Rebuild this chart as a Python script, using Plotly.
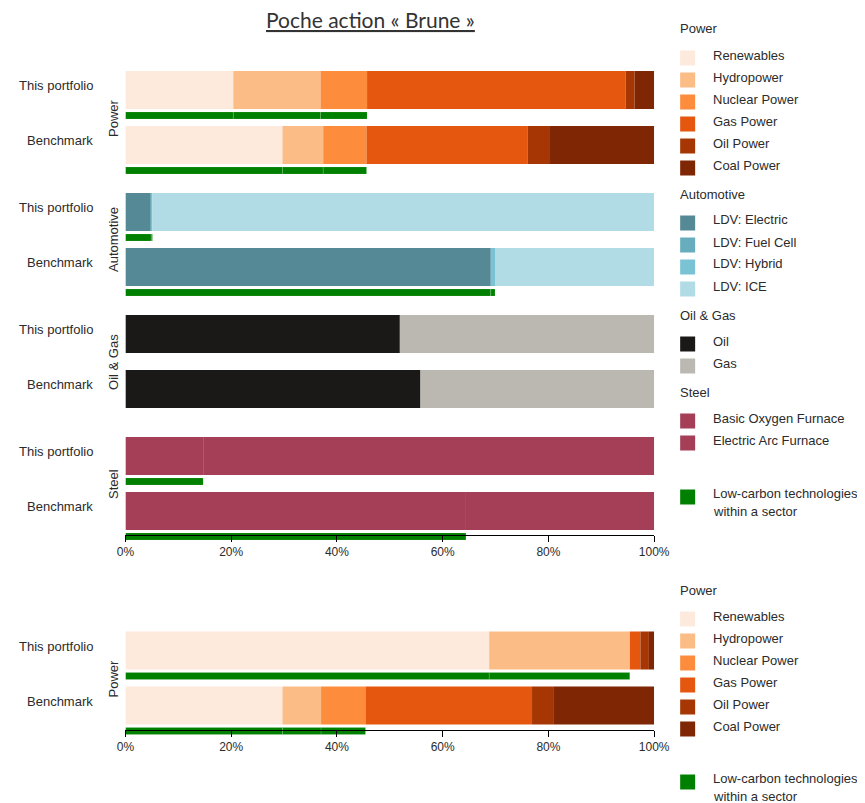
import plotly.graph_objects as go

# ---------------- data ----------------
title_text = "Poche action « Brune »"
row_labels = ["This portfolio", "Benchmark"]
low_carbon_label = ["Low-carbon technologies", "within a sector"]

power_techs = ["Renewables", "Hydropower", "Nuclear Power", "Gas Power", "Oil Power", "Coal Power"]
power_colors = ["#fdeadc", "#fbbd85", "#fd8d3c", "#e5560f", "#a63603", "#7f2704"]
power_lowcarbon = [1, 1, 1, 0, 0, 0]
power_this = [20.4, 16.5, 8.8, 48.9, 1.7, 3.7]
power_bench = [29.7, 7.7, 8.2, 30.5, 4.2, 19.7]

auto_techs = ["LDV: Electric", "LDV: Fuel Cell", "LDV: Hybrid", "LDV: ICE"]
auto_colors = ["#568996", "#67adbd", "#79c3d5", "#b1dce6"]
auto_lowcarbon = [1, 1, 1, 0]
auto_this = [4.9, 0.0, 0.2, 94.9]
auto_bench = [69.1, 0.0, 0.8, 30.1]

og_techs = ["Oil", "Gas"]
og_colors = ["#1a1918", "#bbb8b2"]
og_lowcarbon = [0, 0]
og_this = [51.9, 48.1]
og_bench = [55.8, 44.2]

steel_techs = ["Basic Oxygen Furnace", "Electric Arc Furnace"]
steel_colors = ["#a53e57", "#a53e57"]
steel_lowcarbon = [0, 1]
steel_this = [85.3, 14.7]
steel_bench = [35.6, 64.4]

# second chart (power only)
power2_this = [68.8, 26.6, 0.0, 2.0, 1.6, 1.0]
power2_bench = [29.7, 7.3, 8.4, 31.5, 4.0, 19.1]

green = "#008000"
x_ticks = [0, 20, 40, 60, 80, 100]

sectors_top = [
    ("Power", power_techs, power_colors, power_lowcarbon, power_this, power_bench),
    ("Automotive", auto_techs, auto_colors, auto_lowcarbon, auto_this, auto_bench),
    ("Oil & Gas", og_techs, og_colors, og_lowcarbon, og_this, og_bench),
    ("Steel", steel_techs, steel_colors, steel_lowcarbon, steel_this, steel_bench),
]
sectors_bottom = [
    ("Power", power_techs, power_colors, power_lowcarbon, power2_this, power2_bench),
]

# ---------------- layout helpers ----------------
W, H = 865, 803
FONT = "Liberation Sans, Arial, sans-serif"
TXT = "#2b2b2b"

# compensation for the page offset / plot-area mapping observed when rendered
OX, SX = 16.5, 0.9716
OY = 9.0


def py(px):
    return 1 - (px - OY) / H


def px_x(px):
    return ((px - OX) / SX) / W


fig = go.Figure()
annotations = []
shapes = []

SECTOR_PITCH = 122
ROW_PITCH = 55
MAIN_W = 38
GREEN_W = 7
GREEN_OFF = 25.5
LABEL_DY = -4.5


def add_chart(sectors, xa, ya, first_center):
    for i, (name, techs, colors, lowc, this_vals, bench_vals) in enumerate(sectors):
        centers = [first_center + i * SECTOR_PITCH + j * ROW_PITCH for j in range(2)]
        rows = [this_vals, bench_vals]
        order = [k for k in range(len(techs)) if lowc[k]] + [k for k in range(len(techs)) if not lowc[k]]
        cum = [0.0, 0.0]
        gcum = [0.0, 0.0]
        for k in order:
            vals = [rows[0][k], rows[1][k]]
            fig.add_trace(go.Bar(
                orientation="h", x=vals, y=centers, base=list(cum), width=MAIN_W,
                marker=dict(color=colors[k], line=dict(width=0)),
                name=techs[k], showlegend=False, xaxis=xa, yaxis=ya, hoverinfo="name+x",
            ))
            if lowc[k]:
                fig.add_trace(go.Bar(
                    orientation="h", x=vals, y=[c + GREEN_OFF for c in centers], base=list(gcum),
                    width=GREEN_W,
                    marker=dict(color=green, line=dict(width=0.6, color="rgba(255,255,255,0.2)")),
                    name="Low-carbon", showlegend=False, xaxis=xa, yaxis=ya, hoverinfo="name+x",
                ))
                gcum = [gcum[r] + vals[r] for r in range(2)]
            cum = [cum[r] + vals[r] for r in range(2)]
        for j in range(2):
            annotations.append(dict(
                x=px_x(95), xref="paper", xanchor="right", y=py(centers[j] + LABEL_DY), yref="paper",
                yanchor="middle", text=row_labels[j], showarrow=False,
                font=dict(family=FONT, size=13, color=TXT)))
        annotations.append(dict(
            x=px_x(113), xref="paper", xanchor="center", y=py((centers[0] + centers[1]) / 2),
            yref="paper", yanchor="middle", text=name, textangle=-90, showarrow=False,
            font=dict(family=FONT, size=13, color=TXT)))


def add_legend(sectors, y_start, lowcarbon_gap):
    y = y_start
    for (name, techs, colors, lowc, _a, _b) in sectors:
        annotations.append(dict(
            x=px_x(678), xref="paper", xanchor="left", y=py(y), yref="paper", yanchor="middle",
            text=name, showarrow=False, font=dict(family=FONT, size=13, color=TXT)))
        y += 26
        for t, c in zip(techs, colors):
            shapes.append(dict(type="rect", xref="paper", yref="paper",
                               x0=px_x(680), x1=px_x(695), y0=py(y + 3 - 7.5), y1=py(y + 3 + 7.5),
                               fillcolor=c, line=dict(width=0)))
            annotations.append(dict(
                x=px_x(711), xref="paper", xanchor="left", y=py(y), yref="paper", yanchor="middle",
                text=t, showarrow=False, font=dict(family=FONT, size=13, color=TXT)))
            y += 22
        y += 7
    y = y - 29 + lowcarbon_gap
    shapes.append(dict(type="rect", xref="paper", yref="paper",
                       x0=px_x(680), x1=px_x(695), y0=py(y + 4 - 7.5), y1=py(y + 4 + 7.5),
                       fillcolor=green, line=dict(width=0)))
    for n, line in enumerate(low_carbon_label):
        annotations.append(dict(
            x=px_x(711), xref="paper", xanchor="left", y=py(y + n * 18.5), yref="paper",
            yanchor="middle", text=line, showarrow=False,
            font=dict(family=FONT, size=13, color=TXT)))


add_chart(sectors_top, "x", "y", 91)
add_chart(sectors_bottom, "x2", "y2", 651.5)
add_legend(sectors_top, 30, 53)
add_legend(sectors_bottom, 591, 52)

annotations.append(dict(
    x=px_x(370), xref="paper", xanchor="center", y=py(20), yref="paper", yanchor="middle",
    text="<u>" + title_text + "</u>", showarrow=False,
    font=dict(family="Lato, Open Sans, sans-serif", size=21, color="#333333")))

xaxis_common = dict(
    range=[0, 100], domain=[px_x(125), px_x(654)], showgrid=False, zeroline=False,
    showline=True, linecolor="black", linewidth=1, ticks="outside", ticklen=6,
    tickcolor="black", tickwidth=1, tickvals=x_ticks, ticktext=[f"{v}%" for v in x_ticks],
    tickfont=dict(family=FONT, size=12, color=TXT), anchor="free", fixedrange=True,
)


def ydom(top_px, bottom_px):
    return [py(bottom_px), py(top_px)]


fig.update_layout(
    width=W, height=H, margin=dict(l=0, r=0, t=0, b=0),
    paper_bgcolor="white", plot_bgcolor="white", barmode="overlay", showlegend=False,
    xaxis=dict(xaxis_common, position=py(536)),
    xaxis2=dict(xaxis_common, position=py(730.5)),
    yaxis=dict(range=[545, 60], domain=ydom(60, 545), visible=False, anchor="x", fixedrange=True),
    yaxis2=dict(range=[740, 620], domain=ydom(620, 740), visible=False, anchor="x2", fixedrange=True),
    annotations=annotations, shapes=shapes,
)

fig.write_html("out.html")
